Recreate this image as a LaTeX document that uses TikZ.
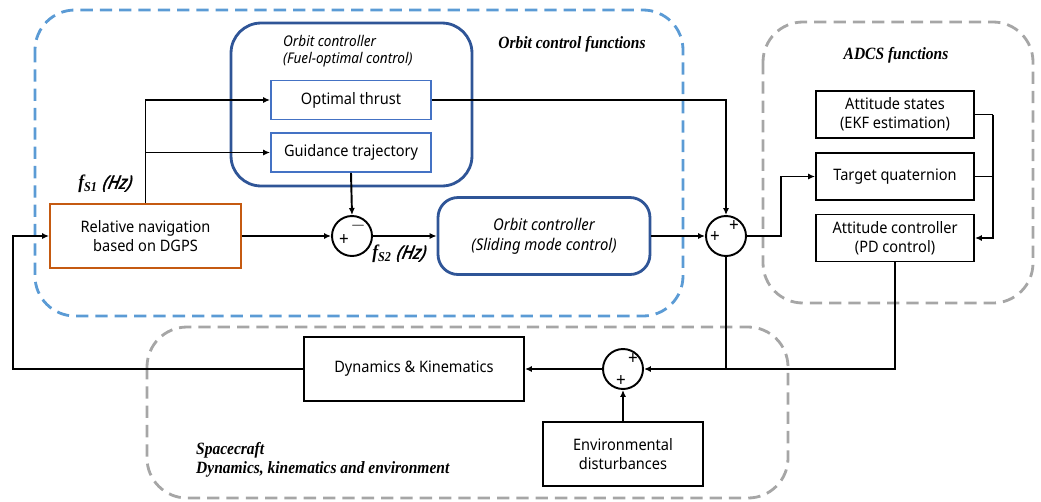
\documentclass[tikz,border=0pt]{standalone}
\usepackage{fontspec}
\setmainfont[FakeStretch=0.92]{Noto Sans}
\newfontfamily\timesbi[FakeStretch=0.9]{Liberation Serif}
\newfontfamily\hzfont[FakeStretch=0.92, FakeSlant=0.2, FakeBold=2]{Noto Sans}
\usepackage{xcolor}
\usetikzlibrary{arrows.meta, positioning, calc}

\definecolor{ocblue}{HTML}{5B9BD5}
\definecolor{boxgray}{HTML}{A6A6A6}
\definecolor{navyline}{HTML}{2F5597}
\definecolor{rectblue}{HTML}{4472C4}
\definecolor{navorange}{HTML}{C55A11}

\begin{document}
\begin{tikzpicture}[x=0.02cm, y=-0.02cm, font=\fontsize{9}{11}\selectfont,
    blk/.style={draw, line width=1.1pt, align=center, inner sep=1pt},
    subblk/.style={draw=rectblue, line width=1.1pt, align=center, minimum width=3.2cm, minimum height=0.78cm},
    ctrlblk/.style={draw=navyline, line width=1.6pt, align=center},
    sumnode/.style={draw, circle, line width=1.1pt, minimum size=0.8cm, inner sep=0pt},
    sgn/.style={inner sep=0pt, font=\fontsize{10.5}{10.5}\selectfont},
    group/.style={dash pattern=on 7pt off 4pt, line width=1.6pt, rounded corners=0.8cm},
    tag/.style={font=\timesbi\bfseries\itshape\fontsize{9.8}{11}\selectfont, align=left},
    sig/.style={-{Latex[length=4pt,width=3.5pt]}, line width=1.1pt},
    wire/.style={line width=1.1pt}]
  \useasboundingbox (0,0) rectangle (1041,501);

  % dashed function groups
  \draw[group, ocblue] (35,10) rectangle (683,316);
  \draw[group, boxgray] (763,22) rectangle (1033,303);
  \draw[group, boxgray] (147,327) rectangle (788,498);

  \node[tag] (octag) at (572,44) {Orbit control functions};
  \node[tag] (adcstag) at (896,55) {ADCS functions};
  \node[tag, anchor=north west] (sctag) at (190,436) {Spacecraft\\Dynamics, kinematics and environment};

  % orbit control
  \node[ctrlblk, rounded corners=0.6cm, minimum width=4.82cm, minimum height=3.26cm] (fuelctrl) at (351.5,104.5) {};
  \node[align=left, anchor=west, font=\fontsize{8.4}{10}\selectfont\itshape] (fuellbl) at (277,51) {Orbit controller\\(Fuel-optimal control)};
  \node[subblk] (optthrust) at (351,100) {Optimal thrust};
  \node[subblk] (guidtraj) at (351,152.5) {Guidance trajectory};
  \node[blk, draw=navorange, minimum width=3.82cm, minimum height=1.28cm] (relnav) at (145.5,236) {Relative navigation\\based on DGPS};
  \node[sumnode] (sum1) at (352,236) {};
  \node[ctrlblk, rounded corners=0.4cm, minimum width=4.24cm, minimum height=1.54cm, font=\fontsize{9.2}{11.5}\selectfont\itshape] (slide) at (544,236) {Orbit controller\\(Sliding mode control)};
  \node[sumnode] (sum2) at (726,236) {};

  \node[sgn] (s1a) at (358,226) {$-$};
  \node[sgn] (s1b) at (344,240) {+};
  \node[sgn] (s2a) at (734,226) {+};
  \node[sgn] (s2b) at (715,237) {+};

  \node[anchor=west, inner sep=0pt] (fs1) at (78,184) {\timesbi\bfseries\itshape\fontsize{11}{11}\selectfont f\textsubscript{S1}\ \hzfont\fontsize{10.5}{11}\selectfont (Hz)};
  \node[anchor=west, inner sep=0pt] (fs2) at (372,254) {\timesbi\bfseries\itshape\fontsize{11}{11}\selectfont f\textsubscript{S2}\ \hzfont\fontsize{10.5}{11}\selectfont (Hz)};

  % ADCS
  \node[blk, minimum width=3.16cm, minimum height=0.94cm] (attstate) at (895,114.5) {Attitude states\\(EKF estimation)};
  \node[blk, minimum width=3.16cm, minimum height=0.94cm] (tgtquat) at (895,176.5) {Target quaternion};
  \node[blk, minimum width=3.16cm, minimum height=0.94cm] (attctrl) at (895,238) {Attitude controller\\(PD control)};

  % spacecraft
  \node[blk, minimum width=4.4cm, minimum height=1.28cm] (dynkin) at (414,369) {Dynamics \& Kinematics};
  \node[sumnode] (sum3) at (623,369) {};
  \node[sgn] (s3a) at (633,359) {+};
  \node[sgn] (s3b) at (621,381) {+};
  \node[blk, minimum width=3.2cm, minimum height=1.28cm] (envdist) at (623,454) {Environmental\\disturbances};

  % signals
  \coordinate (fbk) at (13,369);
  \draw[sig] (dynkin.west) -- (fbk) |- (relnav.west);
  \draw[sig] (relnav.north) |- (optthrust.west);
  \draw[sig] (relnav.north |- guidtraj.west) -- (guidtraj.west);
  \draw[sig] (relnav.east) -- (sum1.west);
  \draw[sig] (guidtraj.south) -- (sum1.north);
  \draw[sig] (sum1.east) -- (slide.west);
  \draw[sig] (optthrust.east) -| (sum2.north);
  \draw[sig] (slide.east) -- (sum2.west);
  \draw[sig] (sum2.east) -- ++(34,0) |- (tgtquat.west);
  \draw[wire] (attstate.east) -- ++(18,0) coordinate (bus);
  \draw[wire] (tgtquat.east) -- (bus |- tgtquat.east);
  \draw[sig] (bus) |- (attctrl.east);
  \draw[sig] (attctrl.south) |- (sum3.east);
  \draw[wire] (sum2.south) -- (sum2.south |- sum3.east);
  \draw[sig] (envdist.north) -- (sum3.south);
  \draw[sig] (sum3.west) -- (dynkin.east);
\end{tikzpicture}
\end{document}
